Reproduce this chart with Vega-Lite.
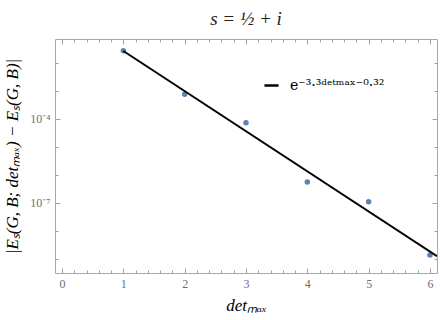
{
  "$schema": "https://vega.github.io/schema/vega-lite/v6.json",
  "width": 382,
  "height": 234,
  "autosize": {"type": "none"},
  "padding": {"left": 55, "top": 39, "right": 4, "bottom": 47},
  "background": "white",
  "config": {
    "view": {"stroke": "#a8a8a8", "strokeWidth": 1},
    "font": "Liberation Serif",
    "axis": {
      "domain": false,
      "grid": false,
      "tickColor": "#a0a0a0",
      "tickWidth": 1,
      "labelColor": "#6e6e6e",
      "labelFont": "Liberation Serif",
      "labelFontSize": 12,
      "titleFont": "Liberation Serif",
      "titleFontStyle": "italic",
      "titleFontWeight": "normal",
      "titleFontSize": 17,
      "titleColor": "black"
    }
  },
  "title": {
    "text": "s = ½ + i",
    "font": "Liberation Serif",
    "fontStyle": "italic",
    "fontWeight": "normal",
    "fontSize": 19,
    "color": "#222222",
    "offset": 10,
    "anchor": "middle"
  },
  "datasets": {
    "points": [
      {"det": 1, "err": 0.0275},
      {"det": 2, "err": 0.00076},
      {"det": 3, "err": 0.000074},
      {"det": 4, "err": 0.00000056},
      {"det": 5, "err": 0.00000011},
      {"det": 6, "err": 0.0000000014}
    ],
    "fit": [
      {"det": 1, "err": 0.02678, "label": "fit"},
      {"det": 6.115, "err": 0.00000000125, "label": "fit"}
    ]
  },
  "resolve": {"axis": {"x": "independent", "y": "independent"}},
  "layer": [
    {
      "data": {"name": "points"},
      "mark": {"type": "point", "filled": true, "size": 30, "color": "#5E81B5", "opacity": 1},
      "encoding": {
        "x": {
          "field": "det", "type": "quantitative",
          "scale": {"domain": [-0.115, 6.115], "nice": false, "zero": false},
          "axis": {"orient": "bottom", "values": [0, 1, 2, 3, 4, 5, 6], "tickSize": -5, "labelPadding": 10, "title": "detₘₐₓ", "titlePadding": 8}
        },
        "y": {
          "field": "err", "type": "quantitative",
          "scale": {"type": "log", "domain": [3.16e-10, 0.0719], "nice": false},
          "axis": {"orient": "left", "values": [0.0001, 0.0000001], "tickSize": -5, "labelPadding": 10,
            "labelExpr": "'10' + (round(log(datum.value)/LN10) == -4 ? '⁻⁴' : '⁻⁷')",
            "title": "|Eₛ(G, B; detₘₐₓ) − Eₛ(G, B)|", "titlePadding": 8}
        }
      }
    },
    {
      "data": {"name": "fit"},
      "mark": {"type": "line", "strokeWidth": 2, "clip": true},
      "encoding": {
        "x": {"field": "det", "type": "quantitative",
          "axis": {"orient": "top", "values": [0, 1, 2, 3, 4, 5, 6], "tickSize": -5, "labels": false, "title": null}},
        "y": {"field": "err", "type": "quantitative",
          "axis": {"orient": "right", "values": [0.0001, 0.0000001], "tickSize": -5, "labels": false, "title": null}},
        "color": {
          "field": "label", "type": "nominal",
          "scale": {"range": ["black"]},
          "legend": {
            "orient": "none", "legendX": 208, "legendY": 38, "title": null,
            "symbolType": "stroke", "symbolStrokeWidth": 2.5, "symbolSize": 200,
            "labelExpr": "'e⁻³·³ᵈᵉᵗᵐᵃˣ⁻⁰·³²'",
            "labelFont": "DejaVu Serif", "labelFontSize": 14, "labelColor": "black",
            "labelOffset": 10, "padding": 0
          }
        }
      }
    },
    {
      "data": {"name": "points"},
      "mark": {"type": "point", "opacity": 0},
      "encoding": {
        "x": {"field": "det", "type": "quantitative",
          "axis": {"orient": "bottom", "values": [0.2, 0.4, 0.6, 0.8, 1.2, 1.4, 1.6, 1.8, 2.2, 2.4, 2.6, 2.8, 3.2, 3.4, 3.6, 3.8, 4.2, 4.4, 4.6, 4.8, 5.2, 5.4, 5.6, 5.8], "tickSize": -3, "labels": false, "title": null}},
        "y": {"field": "err", "type": "quantitative",
          "axis": {"orient": "left", "values": [0.01, 0.001, 0.00001, 0.000001, 0.00000001, 0.000000001], "tickSize": -3, "labels": false, "title": null}}
      }
    },
    {
      "data": {"name": "points"},
      "mark": {"type": "point", "opacity": 0},
      "encoding": {
        "x": {"field": "det", "type": "quantitative",
          "axis": {"orient": "top", "values": [0.2, 0.4, 0.6, 0.8, 1.2, 1.4, 1.6, 1.8, 2.2, 2.4, 2.6, 2.8, 3.2, 3.4, 3.6, 3.8, 4.2, 4.4, 4.6, 4.8, 5.2, 5.4, 5.6, 5.8], "tickSize": -3, "labels": false, "title": null}},
        "y": {"field": "err", "type": "quantitative",
          "axis": {"orient": "right", "values": [0.01, 0.001, 0.00001, 0.000001, 0.00000001, 0.000000001], "tickSize": -3, "labels": false, "title": null}}
      }
    }
  ]
}
